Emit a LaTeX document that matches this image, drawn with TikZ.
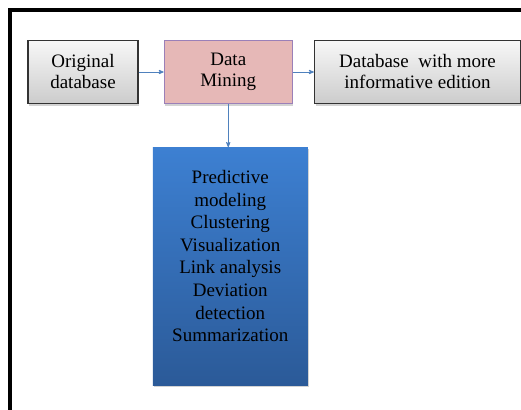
\documentclass[tikz,border=0pt]{standalone}
\usepackage{fontspec}
\setmainfont{Liberation Serif}
\usepackage{tikz}
\usetikzlibrary{arrows,positioning,shadows}

\definecolor{linkblue}{HTML}{4F81BD}
\definecolor{minepink}{HTML}{E6B8B7}
\definecolor{mineedge}{HTML}{9B80B8}
\definecolor{taskhi}{HTML}{3D80D2}
\definecolor{tasklo}{HTML}{2B5A98}

\tikzset{
  dbbox/.style={draw=black!80,line width=1.3pt,top color=gray!6,bottom color=gray!40,
    drop shadow={shadow xshift=1pt,shadow yshift=-2pt,opacity=.35},
    minimum height=63pt,inner sep=0pt,align=center},
  minebox/.style={draw=mineedge,line width=1.2pt,fill=minepink,
    drop shadow={shadow xshift=1pt,shadow yshift=-2pt,opacity=.35},
    minimum width=128pt,minimum height=63pt,inner sep=0pt,align=center},
  taskbox/.style={top color=taskhi,bottom color=tasklo,
    drop shadow={shadow xshift=1pt,shadow yshift=-2pt,opacity=.35},
    minimum width=155pt,minimum height=238pt,inner sep=0pt,align=center,
    font=\fontsize{19}{22.6}\selectfont},
  link/.style={draw=linkblue,line width=.8pt,->,>=stealth'}
}

\begin{document}
\begin{tikzpicture}[x=1pt,y=1pt,node distance=25pt,font=\fontsize{19}{21}\selectfont]
  \useasboundingbox (0,0) rectangle (521,-409);
  \clip (0,0) rectangle (521,-409);
  % frame
  \draw[line width=4pt] (10,-420) -- (10,-10) -- (530,-10);

  \node[dbbox,minimum width=110pt] (orig) at (83,-72) {Original\\database};
  \node[minebox] (dm) [right=25pt of orig] {Data\\Mining};
  \node[dbbox,minimum width=206pt] (richdb) [right=21pt of dm] {Database\ \ with more\\informative edition};
  \node[taskbox] (tasks) [below=43pt of dm,xshift=2pt] {Predictive\\modeling\\Clustering\\Visualization\\Link analysis\\Deviation\\detection\\Summarization\\[-2pt]};

  \draw[link] (orig) -- (dm);
  \draw[link] (dm) -- (richdb);
  \draw[link] (dm.south) -- (dm.south |- tasks.north);
\end{tikzpicture}
\end{document}
